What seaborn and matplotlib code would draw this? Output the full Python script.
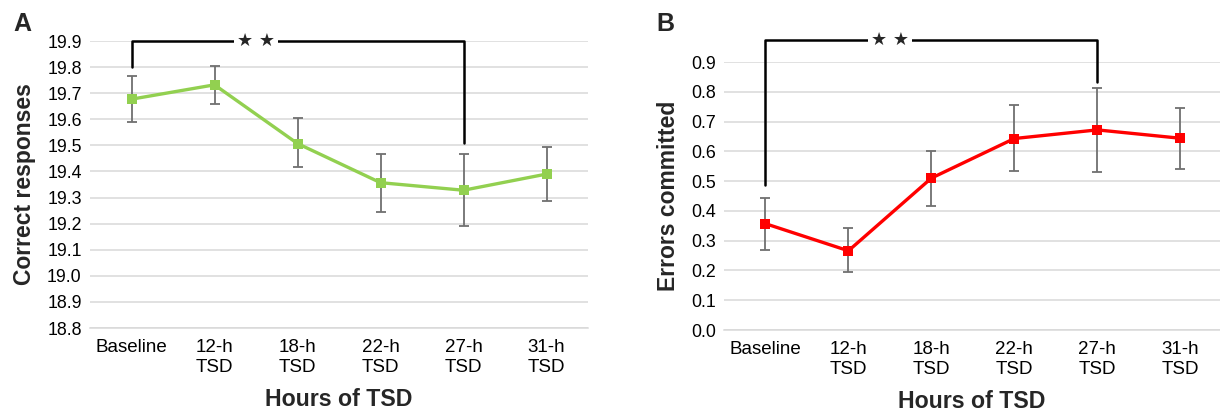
import numpy as np
import pandas as pd
import matplotlib
matplotlib.use("Agg")
from matplotlib import pyplot as plt
import seaborn as sns

# data
hours = ["Baseline", "12-h\nTSD", "18-h\nTSD", "22-h\nTSD", "27-h\nTSD", "31-h\nTSD"]
correct_mean = [19.677, 19.732, 19.507, 19.357, 19.328, 19.390]
correct_low = [19.590, 19.657, 19.418, 19.245, 19.190, 19.285]
correct_high = [19.767, 19.806, 19.603, 19.468, 19.468, 19.495]
errors_mean = [0.357, 0.266, 0.510, 0.643, 0.672, 0.644]
errors_low = [0.267, 0.195, 0.416, 0.535, 0.532, 0.542]
errors_high = [0.444, 0.342, 0.602, 0.756, 0.812, 0.747]

sns.set_style("white")
plt.rcParams["font.family"] = ["Liberation Sans", "DejaVu Sans"]

fig = plt.figure(figsize=(12.2, 4.15), dpi=100)
ax_a = fig.add_axes([90 / 1220, 87 / 415, 498 / 1220, 287 / 415])
ax_b = fig.add_axes([724 / 1220, 85 / 415, 496 / 1220, 268 / 415])


def panel(ax, mean, low, high, color, ylim, ylabel, letter, letter_x, bracket):
    df = pd.DataFrame({"pos": np.arange(len(hours)), "val": mean})
    mean = np.array(mean)
    yerr = [mean - np.array(low), np.array(high) - mean]
    ax.errorbar(df["pos"], df["val"], yerr=yerr, fmt="none", ecolor="#707070",
                elinewidth=1.3, capsize=3.5, capthick=1.3, zorder=2)
    sns.lineplot(data=df, x="pos", y="val", ax=ax, color=color, lw=2.4,
                 marker="s", markersize=7, markeredgewidth=0, zorder=3)
    ax.set_xlim(-0.5, 5.5)
    ax.set_ylim(*ylim)
    ax.set_yticks(np.round(np.arange(ylim[0], ylim[1] + 0.001, 0.1), 1))
    ax.yaxis.set_major_formatter(matplotlib.ticker.FormatStrFormatter("%.1f"))
    ax.set_xticks(df["pos"])
    ax.set_xticklabels(hours)
    ax.tick_params(axis="both", length=0, colors="black")
    ax.tick_params(axis="x", pad=8, labelsize=13.5)
    ax.tick_params(axis="y", pad=6, labelsize=12.8)
    ax.yaxis.grid(True, color="#d9d9d9", lw=1.1)
    ax.set_axisbelow(True)
    for s in ["top", "right", "left"]:
        ax.spines[s].set_visible(False)
    ax.spines["bottom"].set_color("#d9d9d9")
    ax.spines["bottom"].set_linewidth(1.1)
    ax.set_xlabel("Hours of TSD", fontsize=16.7, fontweight="bold", labelpad=9)
    ax.set_ylabel(ylabel, fontsize=16.5, fontweight="bold", labelpad=8)
    fig.text(letter_x, 1 - 24 / 415, letter, fontsize=18, fontweight="bold",
             ha="center", va="center")
    # significance bracket
    x0, x1, ytop, yl, yr = bracket
    ax.plot([x0, x0, x1, x1], [yl, ytop, ytop, yr], color="black", lw=1.8,
            clip_on=False, zorder=4)
    ax.text((x0 + x1) / 2 - 0.5, ytop, "\u2605 \u2605", ha="center", va="center",
            fontsize=13, family=["DejaVu Sans"], clip_on=False, zorder=5,
            bbox=dict(facecolor="white", edgecolor="none", pad=2))


panel(ax_a, correct_mean, correct_low, correct_high, "#92d050", (18.8, 19.9),
      "Correct responses", "A", 22 / 1220, (0, 4, 19.9, 19.8, 19.51))
panel(ax_b, errors_mean, errors_low, errors_high, "#ff0000", (0.0, 0.9),
      "Errors committed", "B", 665 / 1220, (0, 4, 0.974, 0.487, 0.832))
ax_b.set_xlim(-0.5, 5.48)

# small boundary ticks on panel A axis
ax_a.set_xticks(np.arange(-0.5, 5.6, 1), minor=True)
ax_a.tick_params(axis="x", which="minor", length=4, color="#d9d9d9", width=1.1)

fig.savefig("out.png", dpi=100)
